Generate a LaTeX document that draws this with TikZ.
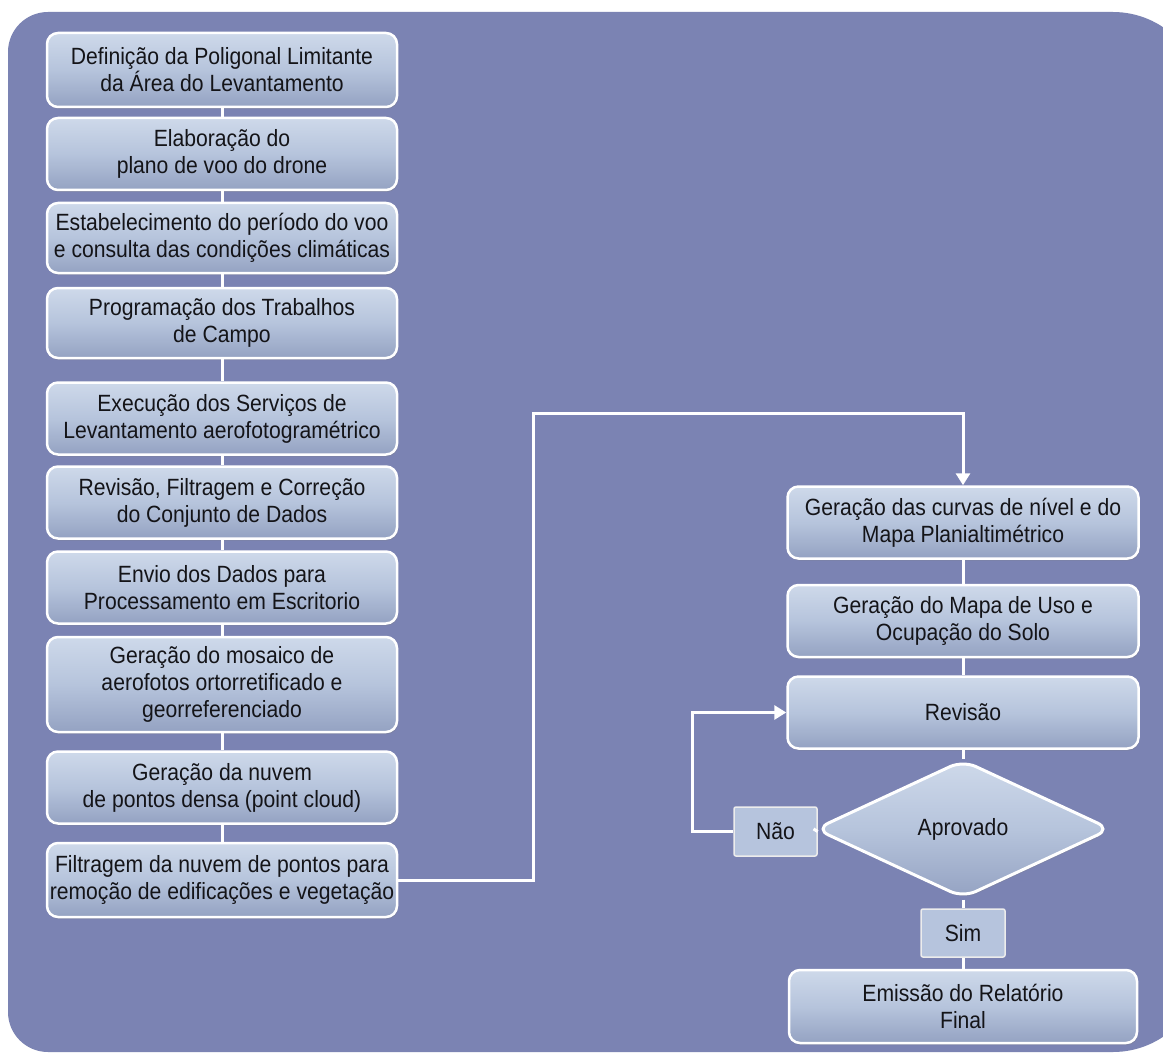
\documentclass[tikz,border=0pt]{standalone}
\usepackage{fontspec}
\setmainfont{Liberation Sans}[FakeStretch=0.9]
\usetikzlibrary{shapes.geometric,arrows.meta,shadows}
\definecolor{bgc}{RGB}{123,131,179}
\definecolor{btop}{RGB}{206,217,234}
\definecolor{bmid}{RGB}{182,196,220}
\definecolor{bbot}{RGB}{148,162,194}
\definecolor{txt}{RGB}{20,20,24}
\definecolor{lblf}{RGB}{182,196,221}
\begin{document}
\begin{tikzpicture}[x=1pt,y=-1pt,
  stepbox/.style={draw=white, line width=2.5pt, rounded corners=11pt,
    top color=btop, bottom color=bbot, middle color=bmid,
    minimum width=350pt, minimum height=72pt, align=center, text=txt,
    font=\fontsize{23.5}{27}\selectfont, inner sep=0pt,
    drop shadow={shadow xshift=1pt,shadow yshift=-2pt,opacity=0.3}},
  lblbox/.style={draw=white!85!gray, line width=1.5pt, fill=lblf, rounded corners=2pt,
    text=txt, font=\fontsize{23.5}{27}\selectfont, inner sep=0pt},
  decbox/.style={diamond, draw=white, line width=3pt, rounded corners=14pt,
    top color=btop, bottom color=bbot, middle color=bmid,
    minimum width=296pt, minimum height=138pt, inner sep=0pt, text=txt,
    font=\fontsize{23.5}{27}\selectfont,
    drop shadow={shadow xshift=1pt,shadow yshift=-2pt,opacity=0.3}},
  conn/.style={draw=white, line width=3pt},
  arr/.style={conn, -{Triangle[width=14pt,length=12pt]}}
]
\useasboundingbox (0,0) rectangle (1163,1054);
\fill[white] (0,0) rectangle (1163,1054);
\begin{scope}
\clip (0,0) rectangle (1163,1054);
\fill[bgc] (8,52) .. controls (8,29.9) and (25.9,12) .. (48,12)
  -- (1113,12) .. controls (1162.7,12) and (1203,52.3) .. (1203,102)
  -- (1203,962) .. controls (1203,1011.7) and (1162.7,1052) .. (1113,1052)
  -- (48,1052) .. controls (25.9,1052) and (8,1034.1) .. (8,1012) -- cycle;
\end{scope}

% left column
\node[stepbox, minimum height=74pt] (s1) at (222,70) {Definição da Poligonal Limitante\\da Área do Levantamento};
\node[stepbox] (s2) at (222,154) {Elaboração do\\plano de voo do drone};
\node[stepbox, minimum height=70pt] (s3) at (222,238) {Estabelecimento do período do voo\\e consulta das condições climáticas};
\node[stepbox, minimum height=70pt] (s4) at (222,323) {Programação dos Trabalhos\\de Campo};
\node[stepbox] (s5) at (222,418.5) {Execução dos Serviços de\\Levantamento aerofotogramétrico};
\node[stepbox] (s6) at (222,502.5) {Revisão, Filtragem e Correção\\do Conjunto de Dados};
\node[stepbox] (s7) at (222,587.5) {Envio dos Dados para\\Processamento em Escritorio};
\node[stepbox, minimum height=95pt] (s8) at (222,684.5) {Geração do mosaico de\\aerofotos ortorretificado e\\georreferenciado};
\node[stepbox] (s9) at (222,787.5) {Geração da nuvem\\de pontos densa (point cloud)};
\node[stepbox, minimum height=74pt] (s10) at (222,880) {Filtragem da nuvem de pontos para\\remoção de edificações e vegetação};

% right column
\node[stepbox, minimum width=351pt] (r1) at (963,522.5) {Geração das curvas de nível e do\\Mapa Planialtimétrico};
\node[stepbox, minimum width=351pt] (r2) at (963,621) {Geração do Mapa de Uso e\\Ocupação do Solo};
\node[stepbox, minimum width=351pt] (r3) at (963,712.5) {Revisão};
\node[decbox] (d) at (963,829) {Aprovado};
\node[lblbox, minimum width=83pt, minimum height=49pt] (no) at (775.5,831.5) {Não};
\node[lblbox, minimum width=84pt, minimum height=48pt] (yes) at (963,933) {Sim};
\node[stepbox, minimum width=348pt, minimum height=73pt] (r4) at (963,1006.5) {Emissão do Relatório\\Final};

% connectors
\foreach \a/\b in {s1/s2,s2/s3,s3/s4,s4/s5,s5/s6,s6/s7,s7/s8,s8/s9,s9/s10}
  \draw[conn] (\a.south) -- (\b.north);
\coordinate (c1) at (533,413);
\draw[arr] (s10.east) -| (c1) -| (r1.north);
\draw[conn] (r1.south) -- (r2.north);
\draw[conn] (r2.south) -- (r3.north);
\draw[conn] (r3.south) -- (d.north);
\draw[conn] (d.west) -- (no.east);
\coordinate (c2) at (692,712.5);
\draw[arr] (no.west) -| (c2) -- (r3.west);
\draw[conn] (d.south) -- (yes.north);
\draw[conn] (yes.south) -- (r4.north);
\end{tikzpicture}
\end{document}
